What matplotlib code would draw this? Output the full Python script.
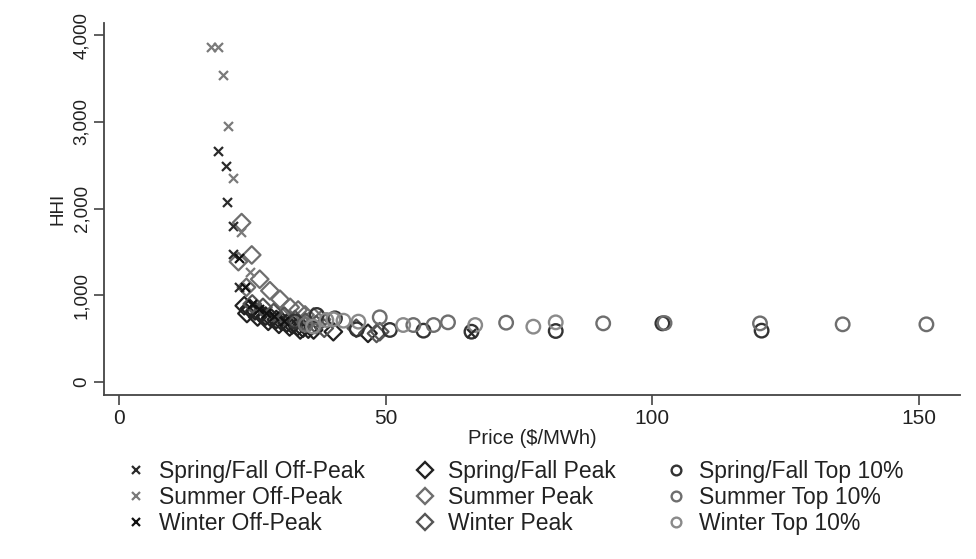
import matplotlib
matplotlib.use("Agg")
import matplotlib.pyplot as plt
from matplotlib.ticker import StrMethodFormatter
from matplotlib.lines import Line2D

plt.rcParams['font.family'] = ['Liberation Sans', 'DejaVu Sans']

# ---- data (price $/MWh, HHI) ----
sf_off_x = [18.6, 20.0, 20.2, 21.4, 21.4, 22.6, 66.1]
sf_off_y = [2664, 2491, 2072, 1803, 1476, 1092, 561]
su_off_x = [17.3, 18.6, 19.6, 20.5, 21.4, 22.9, 24.6, 23.8]
su_off_y = [3867, 3860, 3541, 2956, 2356, 1726, 1272, 1111]
wi_off_x = [22.6, 23.6, 25.0, 26.2, 27.5, 29.0, 31.0]
wi_off_y = [1426, 1100, 900, 840, 800, 760, 700]

sf_pk_x = [23.5, 24.0, 24.5, 25.5, 26.0, 26.5, 27.5, 28.0, 28.5, 29.5, 30.0, 30.5,
           31.5, 32.0, 32.5, 33.5, 34.0, 34.5, 35.5, 36.5, 40.2, 46.7]
sf_pk_y = [880, 790, 850, 820, 750, 790, 760, 700, 740, 720, 665, 700,
           680, 635, 660, 640, 600, 620, 610, 600, 580, 561]
su_pk_x = [23.0, 24.9, 22.4, 26.4, 23.9, 28.3, 30.2, 32.1, 33.6, 34.9, 36.5, 38.0]
su_pk_y = [1838, 1465, 1388, 1185, 1092, 1053, 954, 861, 830, 773, 750, 720]
wi_pk_x = [25.0, 27.0, 29.0, 31.0, 33.0, 35.0, 37.0, 38.5, 44.5, 48.3, 48.9]
wi_pk_y = [900, 860, 800, 760, 720, 690, 660, 620, 620, 560, 580]

sf_top_x = [33.0, 37.1, 40.5, 44.6, 50.8, 57.1, 66.1, 81.9, 101.9, 120.5]
sf_top_y = [700, 773, 734, 607, 600, 592, 580, 588, 676, 592]
su_top_x = [35.0, 48.9, 55.2, 59.0, 61.7, 72.6, 90.8, 102.3, 120.2, 135.7, 151.4]
su_top_y = [660, 746, 657, 657, 688, 684, 676, 680, 676, 665, 665]
wi_top_x = [36.4, 38.9, 40.2, 42.1, 44.9, 53.3, 66.8, 77.7, 81.9]
wi_top_y = [640, 715, 723, 707, 696, 657, 657, 638, 688]

labels = ["Spring/Fall Off-Peak", "Summer Off-Peak", "Winter Off-Peak",
          "Spring/Fall Peak", "Summer Peak", "Winter Peak",
          "Spring/Fall Top 10%", "Summer Top 10%", "Winter Top 10%"]

series = [
    (sf_off_x, sf_off_y, 'x', '#2a2a2a'),
    (su_off_x, su_off_y, 'x', '#7a7a7a'),
    (wi_off_x, wi_off_y, 'x', '#111111'),
    (sf_pk_x, sf_pk_y, 'D', '#222222'),
    (su_pk_x, su_pk_y, 'D', '#6e6e6e'),
    (wi_pk_x, wi_pk_y, 'D', '#555555'),
    (sf_top_x, sf_top_y, 'o', '#333333'),
    (su_top_x, su_top_y, 'o', '#6e6e6e'),
    (wi_top_x, wi_top_y, 'o', '#8a8a8a'),
]

fig = plt.figure(figsize=(9.76, 5.59), dpi=100)
ax = fig.add_axes([104/976, 1-395/559, (960-104)/976, (395-23)/559])

handles = []
for (xs, ys, m, c), lab in zip(series, labels):
    if m == 'x':
        ax.scatter(xs, ys, marker='x', s=42, c=c, linewidths=1.6, zorder=3)
        h = Line2D([], [], marker='x', ls='none', color=c, markersize=5.5, mew=1.6)
    elif m == 'D':
        ax.scatter(xs, ys, marker='D', s=80, facecolors='none', edgecolors=c, linewidths=1.6, zorder=2)
        h = Line2D([], [], marker='D', ls='none', mfc='none', mec=c, markersize=8.5, mew=1.7)
    else:
        ax.scatter(xs, ys, marker='o', s=95, facecolors='none', edgecolors=c, linewidths=1.7, zorder=2)
        h = Line2D([], [], marker='o', ls='none', mfc='none', mec=c, markersize=7, mew=1.7)
    handles.append(h)

ax.set_xlim(-2.8, 157.7)
ax.set_ylim(-150, 4140)
ax.set_xticks([0, 50, 100, 150])
ax.set_yticks([0, 1000, 2000, 3000, 4000])
ax.yaxis.set_major_formatter(StrMethodFormatter('{x:,.0f}'))
for s in ['top', 'right']:
    ax.spines[s].set_visible(False)
for s in ['left', 'bottom']:
    ax.spines[s].set_color('#444444')
    ax.spines[s].set_linewidth(1.3)
ax.tick_params(axis='both', direction='out', length=7, width=1.2, color='#444444',
               labelcolor='#222222')
ax.tick_params(axis='x', labelsize=15, pad=3)
ax.tick_params(axis='y', labelsize=13.5, pad=3)
for lbl in ax.get_yticklabels():
    lbl.set_rotation(90)
    lbl.set_va('center')
ax.set_xlabel("Price ($/MWh)", fontsize=14.5, color='#222222', labelpad=1)
ax.set_ylabel("HHI", fontsize=13.5, color='#222222', labelpad=5)

col_x = [138, 427, 678]
for ci in range(3):
    leg = fig.legend(handles[ci*3:ci*3+3], labels[ci*3:ci*3+3], loc='upper left',
                     bbox_to_anchor=((col_x[ci] - 12)/976, 1-460/559),
                     frameon=False, fontsize=16.5, handlelength=0.9, handletextpad=0.55,
                     labelspacing=0.14, borderpad=0.0, borderaxespad=0.0,
                     labelcolor='#222222')

fig.savefig("out.png", dpi=100)
